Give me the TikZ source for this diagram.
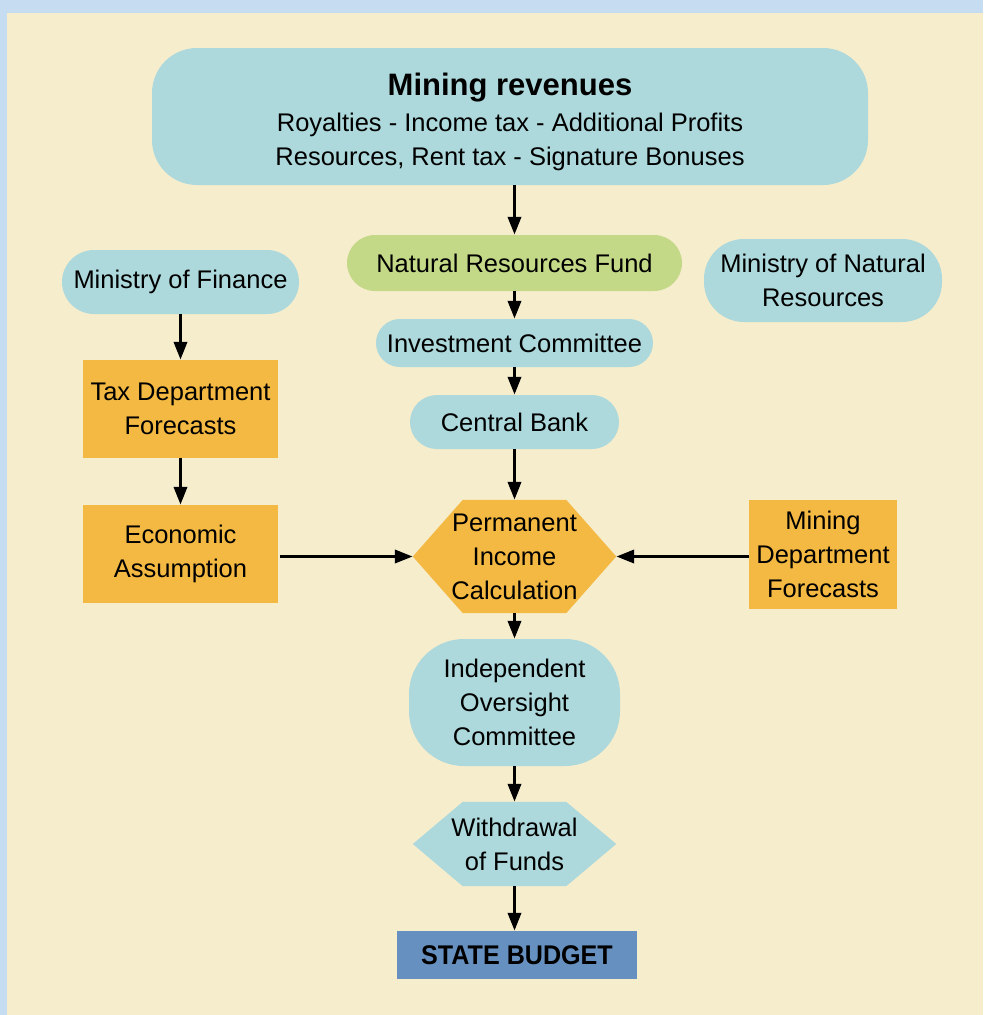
\documentclass[tikz,border=0pt]{standalone}
\usepackage{fontspec}
\setmainfont{Liberation Sans}
\usetikzlibrary{arrows.meta,backgrounds}
\definecolor{pageblue}{HTML}{C6DDF1}
\definecolor{cream}{HTML}{F6EDCD}
\definecolor{teal}{HTML}{ADD9DC}
\definecolor{leaf}{HTML}{C4D987}
\definecolor{amber}{HTML}{F4B942}
\definecolor{budget}{HTML}{6690C0}
\begin{document}
\begin{tikzpicture}[x=1pt,y=-1pt,
  every node/.style={font=\fontsize{25.5}{34}\selectfont, align=center, inner sep=0pt, text=black},
  tealbox/.style={fill=teal},
  orangebox/.style={fill=amber},
  arr/.style={line width=3.5pt, -{Triangle[length=18pt,width=13pt]}}
]
\useasboundingbox (0,0) rectangle (983,1015);
\begin{scope}[on background layer]
  \fill[pageblue] (0,0) rectangle (983,1015);
  \fill[cream] (7,13) rectangle (983,1015);
\end{scope}

% central column
\node[tealbox, rounded corners=45pt, minimum width=716pt, minimum height=137pt] (mr) at (510,116.5)
  {\rule{0pt}{34pt}{\bfseries\fontsize{31}{34}\selectfont Mining revenues}\\[2pt]
   Royalties - Income tax - Additional Profits\\
   Resources, Rent tax - Signature Bonuses};
\node[fill=leaf, rounded corners=28pt, minimum width=335pt, minimum height=56pt] (nrf) at (514.5,263) {Natural Resources Fund};
\node[tealbox, rounded corners=24pt, minimum width=277pt, minimum height=48pt] (ic) at (514.5,343) {Investment Committee};
\node[tealbox, rounded corners=27pt, minimum width=209pt, minimum height=54pt] (cb) at (514.5,422) {Central Bank};
\node[minimum width=203pt, minimum height=113pt] (pic) at (514.5,556.5) {Permanent\\Income\\Calculation};
\node[tealbox, rounded corners=55pt, minimum width=211pt, minimum height=127pt] (ioc) at (514.5,702.5) {Independent\\Oversight\\Committee};
\node[minimum width=203pt, minimum height=84pt] (wd) at (514.5,844) {Withdrawal\\of Funds};
\node[fill=budget, minimum width=240pt, minimum height=48pt] (sb) at (517,955)
  {\scalebox{0.93}[1]{\fontsize{27}{30}\selectfont\bfseries STATE BUDGET}};

% left column
\node[tealbox, rounded corners=32pt, minimum width=237pt, minimum height=64pt] (mof) at (180.5,282) {Ministry of Finance};
\node[orangebox, minimum width=195pt, minimum height=98pt] (tdf) at (180.5,409) {Tax Department\\Forecasts};
\node[orangebox, minimum width=195pt, minimum height=98pt] (ea) at (180.5,554) {Economic\\Assumption};

% right column
\node[tealbox, rounded corners=40pt, minimum width=238pt, minimum height=83pt] (mnr) at (823,280.5) {Ministry of Natural\\Resources};
\node[orangebox, minimum width=148pt, minimum height=109pt] (mdf) at (823,554.5) {Mining\\Department\\Forecasts};

% hexagons
\begin{scope}[on background layer]
  \fill[amber] ([xshift=50pt]pic.north west) -- ([xshift=-50pt]pic.north east) -- (pic.east)
     -- ([xshift=-50pt]pic.south east) -- ([xshift=50pt]pic.south west) -- (pic.west) -- cycle;
  \fill[teal] ([xshift=50pt]wd.north west) -- ([xshift=-50pt]wd.north east) -- (wd.east)
     -- ([xshift=-50pt]wd.south east) -- ([xshift=50pt]wd.south west) -- (wd.west) -- cycle;
\end{scope}

% connectors
\draw[arr] (mr.south -| nrf.north) -- (nrf.north);
\draw[arr] (nrf.south) -- (ic.north);
\draw[arr] (ic.south) -- (cb.north);
\draw[arr] (cb.south) -- (pic.north);
\draw[arr] (pic.south) -- (ioc.north);
\draw[arr] (ioc.south) -- (wd.north);
\draw[arr] (wd.south) -- (wd.south |- sb.north);
\draw[arr] (mof.south) -- (tdf.north);
\draw[arr] (tdf.south) -- (ea.north);
\draw[arr, shorten <=2pt] (ea.east |- pic.west) -- (pic.west);
\draw[arr] (mdf.west |- pic.east) -- (pic.east);
\end{tikzpicture}
\end{document}
